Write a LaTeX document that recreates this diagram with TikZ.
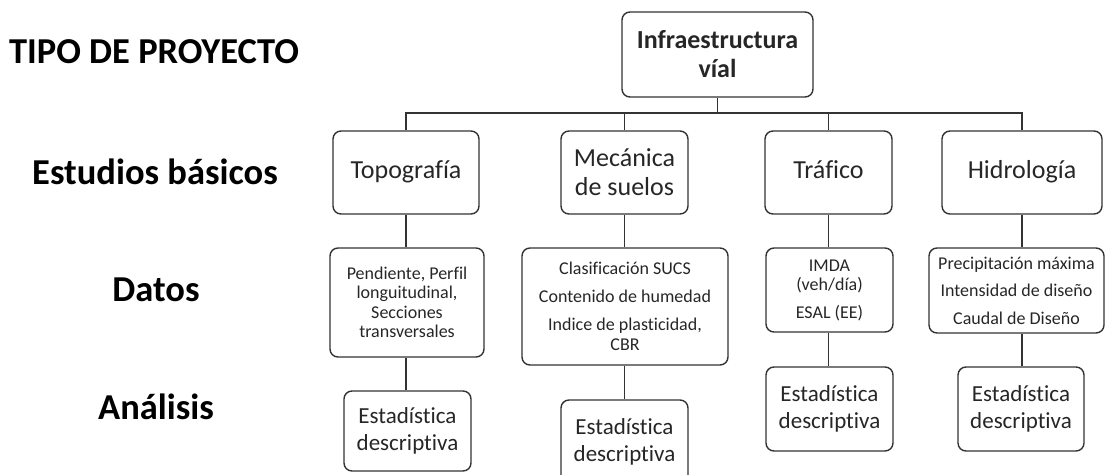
\documentclass[tikz,border=0pt]{standalone}
\usepackage{fontspec}
\setmainfont{Carlito}[Ligatures={NoCommon}]
\begin{document}
\begin{tikzpicture}[x=1pt,y=-1pt,
  box/.style={draw=black!80,line width=1.4pt,rounded corners=8pt,align=center,inner sep=0pt,text=black!85},
  lvl/.style={font=\bfseries\fontsize{36.5}{40}\selectfont,anchor=center},
  big/.style={font=\fontsize{26}{29}\selectfont},
  one/.style={text height=18pt,text depth=6pt},
  dat/.style={font=\fontsize{18}{19.5}\selectfont},
  ana/.style={font=\fontsize{23}{27}\selectfont},
  link/.style={draw=black!80,line width=1.5pt}]
\clip (0,0) rectangle (1105,474);
\useasboundingbox (0,0) rectangle (1105,474);
% level labels
\node[lvl] (l1) at (154,52) {TIPO DE PROYECTO};
\node[lvl] (l2) at (155,172) {Estudios básicos};
\node[lvl] (l3) at (156,290) {Datos};
\node[lvl] (l4) at (156,407) {Análisis};
% top
\node[box,big,font=\bfseries\fontsize{26}{29}\selectfont,minimum width=191pt,minimum height=85pt] (top) at (717.5,54.5) {Infraestructura\\víal};
% studies
\node[box,big,one,minimum width=146pt,minimum height=83pt] (topo) at (406,172.5) {Topografía};
\node[box,big,minimum width=127pt,minimum height=83pt] (mec) at (624.5,172.5) {Mecánica\\de suelos};
\node[box,big,one,minimum width=127pt,minimum height=83pt] (traf) at (828.5,172.5) {Tráfico};
\node[box,big,one,minimum width=160pt,minimum height=83pt] (hidro) at (1022,172.5) {Hidrología};
% data
\node[box,dat,minimum width=154pt,minimum height=109pt] (topoD) at (407,302.5) {Pendiente, Perfil\\longuitudinal,\\Secciones\\transversales};
\node[box,dat,minimum width=206pt,minimum height=117pt] (mecD) at (625,306.5) {Clasificación SUCS\\[8.5pt]Contenido de humedad\\[8.5pt]Indice de plasticidad,\\CBR};
\node[box,dat,minimum width=127pt,minimum height=84pt] (trafD) at (829.5,290) {IMDA\\(veh/día)\\[8pt]ESAL (EE)};
\node[box,dat,minimum width=175pt,minimum height=85pt] (hidroD) at (1016.5,290.5) {Precipitación máxima\\[8pt]Intensidad de diseño\\[8pt]Caudal de Diseño};
% analysis
\node[box,ana,minimum width=127pt,minimum height=80pt] (topoA) at (407.5,431) {Estadística\\descriptiva};
\node[box,ana,minimum width=127pt,minimum height=84pt] (mecA) at (624.5,442) {Estadística\\descriptiva};
\node[box,ana,minimum width=127pt,minimum height=84pt] (trafA) at (829.5,409) {Estadística\\descriptiva};
\node[box,ana,minimum width=126pt,minimum height=84pt] (hidroA) at (1021,409) {Estadística\\descriptiva};
% connectors
\coordinate (bar) at (717.5,113);
\draw[link] (top.south) -- (bar);
\draw[link] (topo.north) -- (topo.north |- bar) -- (hidro.north |- bar) -- (hidro.north);
\draw[link] (mec.north) -- (mec.north |- bar);
\draw[link] (traf.north) -- (traf.north |- bar);
\draw[link] (topo.south) -- (topo.south |- topoD.north);
\draw[link] (mec.south) -- (mec.south |- mecD.north);
\draw[link] (traf.south) -- (traf.south |- trafD.north);
\draw[link] (hidro.south) -- (hidro.south |- hidroD.north);
\draw[link] (topo.south |- topoD.south) -- (topo.south |- topoA.north);
\draw[link] (mec.south |- mecD.south) -- (mec.south |- mecA.north);
\draw[link] (traf.south |- trafD.south) -- (traf.south |- trafA.north);
\draw[link] (hidro.south |- hidroD.south) -- (hidro.south |- hidroA.north);
\end{tikzpicture}
\end{document}
